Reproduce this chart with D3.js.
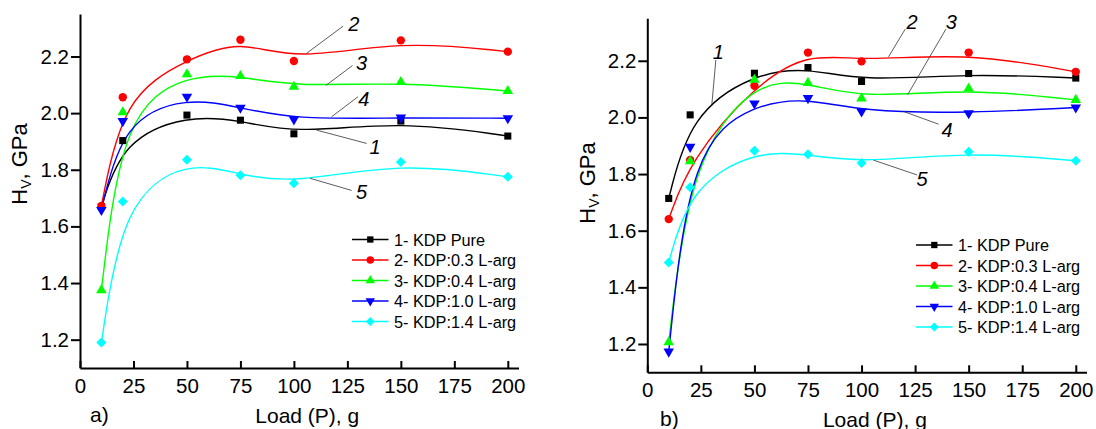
<!DOCTYPE html>
<html>
<head>
<meta charset="utf-8">
<script src="https://cdn.jsdelivr.net/npm/d3@7"></script>
<style>
  body { margin: 0; background: #fff; }
  svg { display: block; font-family: "Liberation Sans", Arial, sans-serif; }
  .axis path, .axis line { stroke: #000; stroke-width: 2; }
  .axis text { font-size: 20.5px; fill: #000; }
</style>
</head>
<body>
<svg id="chart" width="1096" height="429"></svg>
<script>
// load values, g
const loads = [10, 20, 50, 75, 100, 150, 200];
const xTicks = [0, 25, 50, 75, 100, 125, 150, 175, 200];
const yTicks = [1.2, 1.4, 1.6, 1.8, 2.0, 2.2];
const legendLabels = ['1- KDP Pure', '2- KDP:0.3 L-arg', '3- KDP:0.4 L-arg', '4- KDP:1.0 L-arg', '5- KDP:1.4 L-arg'];

// panel a) Hv, GPa
const aPure = [1.670, 1.903, 1.993, 1.975, 1.927, 1.972, 1.919];
const a03 = [1.672, 2.056, 2.190, 2.259, 2.184, 2.257, 2.217];
const a04 = [1.375, 2.003, 2.137, 2.131, 2.093, 2.110, 2.078];
const a10 = [1.658, 1.972, 2.058, 2.019, 1.978, 1.984, 1.982];
const a14 = [1.190, 1.688, 1.835, 1.781, 1.752, 1.827, 1.775];

// panel b) Hv, GPa
const bPure = [1.714, 2.009, 2.156, 2.176, 2.127, 2.155, 2.139];
const b03 = [1.641, 1.850, 2.112, 2.229, 2.198, 2.229, 2.161];
const b04 = [1.206, 1.845, 2.133, 2.122, 2.067, 2.102, 2.062];
const b10 = [1.173, 1.896, 2.049, 2.068, 2.021, 2.015, 2.035];
const b14 = [1.488, 1.753, 1.882, 1.870, 1.839, 1.879, 1.847];

// curve labels: label position and leader line, in data units
const notesA = [
  { n: '1', tx: 137.9, ty: 1.880, x1: 134.0, y1: 1.893, x2: 110.6, y2: 1.940 },
  { n: '2', tx: 128.0, ty: 2.313, x1: 123.0, y1: 2.307, x2: 105.9, y2: 2.211 },
  { n: '3', tx: 131.6, ty: 2.178, x1: 127.4, y1: 2.168, x2: 115.0, y2: 2.098 },
  { n: '4', tx: 132.7, ty: 2.051, x1: 130.0, y1: 2.058, x2: 117.6, y2: 1.987 },
  { n: '5', tx: 131.6, ty: 1.721, x1: 127.0, y1: 1.727, x2: 107.5, y2: 1.770 }
];
const notesB = [
  { n: '1', tx: 33.2, ty: 2.232, x1: 32.0, y1: 2.203, x2: 30.1, y2: 2.043 },
  { n: '2', tx: 123.6, ty: 2.337, x1: 120.4, y1: 2.312, x2: 112.6, y2: 2.214 },
  { n: '3', tx: 141.9, ty: 2.337, x1: 139.4, y1: 2.312, x2: 121.5, y2: 2.080 },
  { n: '4', tx: 139.9, ty: 1.955, x1: 136.0, y1: 1.976, x2: 119.6, y2: 2.021 },
  { n: '5', tx: 128.2, ty: 1.782, x1: 125.9, y1: 1.797, x2: 105.6, y2: 1.849 }
];

const colors = ['#000000', '#ff0000', '#00ff00', '#0000ff', '#00ffff'];
const shapes = [
  { type: d3.symbolSquare, size: 50, rot: 0 },
  { type: d3.symbolCircle, size: 55, rot: 0 },
  { type: d3.symbolTriangle, size: 48, rot: 0 },
  { type: d3.symbolTriangle, size: 48, rot: 180 },
  { type: d3.symbolSquare, size: 50, rot: 45 }
];

const svg = d3.select('#chart');

const panels = [
  { series: [aPure, a03, a04, a10, a14], notes: notesA, tag: 'a)',
    x0: 80, x1: 518.5, yb: 368, yt: 14, legend: [352, 239.5], titleX: 27, titleY: 164, tagX: 90, labelY: 423 },
  { series: [bPure, b03, b04, b10, b14], notes: notesB, tag: 'b)',
    x0: 647.3, x1: 1086.5, yb: 372.3, yt: 18.3, legend: [916, 245], titleX: 595, titleY: 183, tagX: 660, labelY: 426.5 }
];

panels.forEach(p => {
  const x = d3.scaleLinear().domain([0, 205]).range([p.x0, p.x1]);
  const y = d3.scaleLinear().domain([1.1, 2.35]).range([p.yb, p.yt]);
  const g = svg.append('g');

  // axes
  g.append('g').attr('class', 'axis')
    .attr('transform', `translate(0,${p.yb})`)
    .call(d3.axisBottom(x).tickValues(xTicks).tickFormat(d3.format('d'))
      .tickSizeInner(-7).tickSizeOuter(0).tickPadding(10));
  g.append('g').attr('class', 'axis')
    .attr('transform', `translate(${p.x0},0)`)
    .call(d3.axisLeft(y).tickValues(yTicks).tickFormat(d3.format('.1f'))
      .tickSizeInner(9).tickSizeOuter(0).tickPadding(2));

  // axis titles
  g.append('text')
    .attr('x', (p.x0 + p.x1) / 2 + 8).attr('y', p.labelY)
    .attr('text-anchor', 'middle').attr('font-size', 21)
    .text('Load (P), g');
  g.append('text')
    .attr('x', p.tagX).attr('y', p.labelY - 1).attr('font-size', 21)
    .text(p.tag);
  const yt = g.append('text')
    .attr('transform', `translate(${p.titleX},${p.titleY}) rotate(-90)`)
    .attr('text-anchor', 'middle').attr('font-size', 22);
  yt.append('tspan').text('H');
  yt.append('tspan').attr('font-size', 14).attr('baseline-shift', '-30%').text('V');
  yt.append('tspan').text(', GPa');

  // curves and markers
  const line = d3.line()
    .x((d, i) => x(loads[i]))
    .y(d => y(d))
    .curve(d3.curveBasis);

  p.series.forEach((vals, k) => {
    g.append('path')
      .attr('d', line(vals))
      .attr('fill', 'none')
      .attr('stroke', colors[k])
      .attr('stroke-width', 1.4);
  });
  p.series.forEach((vals, k) => {
    const sym = d3.symbol().type(shapes[k].type).size(shapes[k].size);
    g.selectAll(null)
      .data(vals)
      .enter()
      .append('path')
      .attr('d', sym)
      .attr('transform', (d, i) => `translate(${x(loads[i])},${y(d)}) rotate(${shapes[k].rot})`)
      .attr('fill', colors[k]);
  });

  // curve labels
  p.notes.forEach(n => {
    g.append('line')
      .attr('x1', x(n.x1)).attr('y1', y(n.y1))
      .attr('x2', x(n.x2)).attr('y2', y(n.y2))
      .attr('stroke', '#333').attr('stroke-width', 0.8);
    g.append('text')
      .attr('x', x(n.tx)).attr('y', y(n.ty))
      .attr('text-anchor', 'middle').attr('dominant-baseline', 'central')
      .attr('font-size', 20).attr('font-style', 'italic')
      .text(n.n);
  });

  // legend
  const lg = g.append('g').attr('transform', `translate(${p.legend[0]},${p.legend[1]})`);
  legendLabels.forEach((lab, k) => {
    const row = lg.append('g').attr('transform', `translate(0,${k * 20.5})`);
    row.append('line').attr('x1', 0).attr('x2', 36.5).attr('y1', 0).attr('y2', 0)
      .attr('stroke', colors[k]).attr('stroke-width', 1.4);
    row.append('path')
      .attr('d', d3.symbol().type(shapes[k].type).size(shapes[k].size * 0.8)())
      .attr('transform', `translate(18.3,0) rotate(${shapes[k].rot})`)
      .attr('fill', colors[k]);
    row.append('text').attr('x', 42).attr('y', 0)
      .attr('dominant-baseline', 'central').attr('font-size', 16.3)
      .text(lab);
  });
});
</script>
</body>
</html>
